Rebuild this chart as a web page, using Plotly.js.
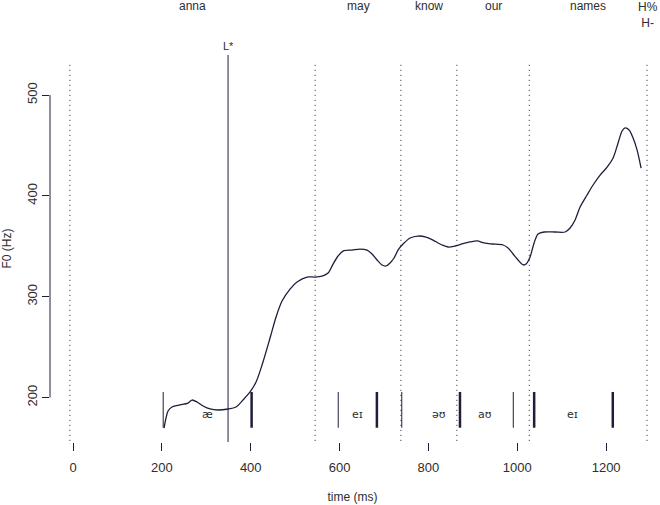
<!DOCTYPE html>
<html>
<head>
<meta charset="utf-8">
<script src="https://cdn.plot.ly/plotly-3.0.1.min.js"></script>
<style>html,body{margin:0;padding:0;background:#fff;}#chart{width:660px;height:505px;}</style>
</head>
<body>
<div id="chart"></div>
<script>
// F0 contour (time in ms, F0 in Hz)
var f0Time = [204.9,209.4,213.9,222.9,240.9,258.9,267.9,279.2,292.7,308.4,326.4,348.9,366.9,382.7,398.5,412.0,425.5,443.5,457.0,470.5,488.5,504.3,526.8,544.8,560.6,574.1,585.3,596.6,607.8,628.1,646.1,661.9,673.1,684.4,695.6,704.6,713.6,722.6,731.6,742.9,758.7,776.7,794.7,810.4,821.7,830.7,844.2,860.0,875.7,893.7,909.5,925.3,943.3,968.0,979.3,990.5,1001.8,1013.1,1019.8,1028.8,1037.8,1046.8,1060.3,1085.1,1107.6,1118.9,1130.1,1141.4,1157.1,1170.6,1186.4,1202.2,1215.7,1226.9,1235.9,1242.7,1251.7,1260.7,1269.7,1278.7];
var f0Hz = [169.7,179.7,186.6,190.6,192.6,194.5,197.5,195.5,191.6,188.6,187.6,188.6,190.6,197.5,205.5,215.4,232.2,259.0,279.9,295.7,307.6,314.6,319.5,319.5,320.5,323.5,332.4,340.4,345.3,346.3,347.3,346.3,342.4,336.4,331.5,330.5,333.5,338.4,346.3,352.3,358.2,360.2,359.2,356.2,353.3,351.3,349.3,350.3,352.3,354.3,355.3,353.3,352.3,351.3,348.3,342.4,336.4,331.5,332.4,339.4,353.3,362.2,364.2,364.2,364.2,368.2,376.1,389.0,400.9,410.8,420.7,428.6,437.6,452.5,464.4,467.4,465.4,457.4,445.5,427.6];

// Words and word boundaries (ms)
var wordBounds = [-7, 545, 738, 864, 1027, 1292];
var words = ['anna', 'may', 'know', 'our', 'names'];

// Tones
var toneTimes = [349, 1294];
var toneLabels = ['L*', 'H%<br>H-'];
var toneHasLine = [true, false];

// Segment boundaries (ms) and weight (thin/thick)
var segTimes = [203, 402, 597, 684, 740, 871, 991, 1038, 1215];
var segThick = [false, true, false, true, false, true, false, true, true];

// Vowel labels
var vowelLabels = ['æ', 'eɪ', 'əʊ', 'aʊ', 'eɪ'];
var vowelTimes = [302, 640, 824, 927, 1125];

// Axis ticks
var xTicks = [0, 200, 400, 600, 800, 1000, 1200];
var yTicks = [200, 300, 400, 500];

var ink = '#1e1e3c';
var txt = '#2e2e2e';
var yMin = 155.85, yMax = 539.8;

var shapes = [];
var annotations = [];

// y axis line (from first to last tick)
shapes.push({type:'line', xref:'paper', yref:'y', x0:0, x1:0, y0:yTicks[0], y1:yTicks[yTicks.length-1], line:{color:ink, width:1}});

// word boundaries (dotted)
wordBounds.forEach(function(t){
  shapes.push({type:'line', xref:'x', yref:'y', x0:t, x1:t, y0:157, y1:532, line:{color:ink, width:1, dash:'1px,4px'}});
});
// word labels
for (var i=0;i<words.length;i++){
  annotations.push({x:(wordBounds[i]+wordBounds[i+1])/2, xref:'x', y:1.127, yref:'paper', text:words[i], showarrow:false, xanchor:'center', yanchor:'middle', font:{size:12, color:txt}});
}
// tones
for (var j=0;j<toneTimes.length;j++){
  if (toneHasLine[j]) {
    shapes.push({type:'line', xref:'x', yref:'y', x0:toneTimes[j], x1:toneTimes[j], y0:yMin, y1:yMax, line:{color:ink, width:1}});
    annotations.push({x:toneTimes[j], xref:'x', y:1.0235, yref:'paper', text:toneLabels[j], showarrow:false, xanchor:'center', yanchor:'middle', font:{size:11, color:txt}});
  } else {
    annotations.push({x:toneTimes[j], xref:'x', y:1.06, yref:'paper', text:toneLabels[j], showarrow:false, xanchor:'center', yanchor:'bottom', font:{size:12, color:txt}});
  }
}
// segment marks
segTimes.forEach(function(t, k){
  shapes.push({type:'line', xref:'x', yref:'y', x0:t, x1:t, y0:170, y1:205.5, line:{color:ink, width: segThick[k] ? 2.5 : 1}});
});
vowelLabels.forEach(function(v, k){
  annotations.push({x:vowelTimes[k], xref:'x', y:183.6, yref:'y', text:v, showarrow:false, xanchor:'center', yanchor:'middle', font:{size:11, color:txt, family:'DejaVu Sans, sans-serif'}});
});

var trace = {
  x: f0Time, y: f0Hz, type:'scatter', mode:'lines',
  line:{color:ink, width:1.3, shape:'spline', smoothing:0.8},
  hoverinfo:'skip', showlegend:false
};

var layout = {
  width:660, height:505,
  margin:{l:50, r:5, t:55, b:63},
  paper_bgcolor:'#ffffff', plot_bgcolor:'#ffffff',
  font:{family:'Liberation Sans, Arial, sans-serif', size:12, color:txt},
  showlegend:false,
  xaxis:{
    range:[-51.8, 1310], showgrid:false, zeroline:false, showline:false,
    tickvals:xTicks, ticktext:xTicks.map(String), ticks:'outside', ticklen:8, tickcolor:ink, tickwidth:1,
    tickfont:{size:13, color:txt}, ticklabelstandoff:5,
    title:{text:'time (ms)', font:{size:12, color:txt}, standoff:19}
  },
  yaxis:{
    range:[yMin, yMax], showgrid:false, zeroline:false, showline:false,
    tickvals:yTicks, ticktext:yTicks.map(String), ticks:'outside', ticklen:7, tickcolor:ink, tickwidth:1,
    tickangle:-90, tickfont:{size:13, color:txt},
    title:{text:'F0 (Hz)', font:{size:12, color:txt}, standoff:12}
  },
  shapes:shapes,
  annotations:annotations
};

Plotly.newPlot('chart', [trace], layout, {displayModeBar:false, staticPlot:true});
</script>
</body>
</html>
